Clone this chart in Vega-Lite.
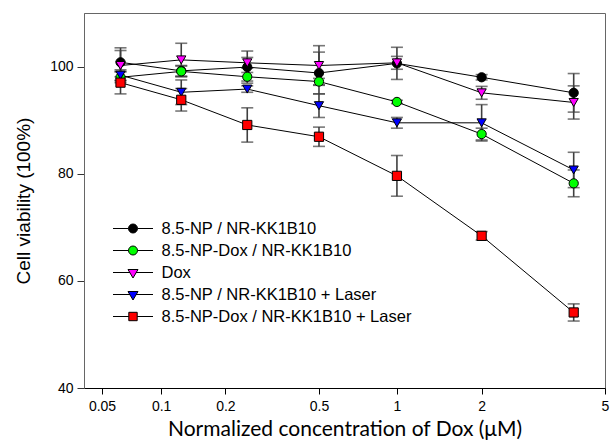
{
  "$schema": "https://vega.github.io/schema/vega-lite/v6.json",
  "width": 521,
  "height": 375,
  "autosize": {"type": "none"},
  "padding": {"left": 84, "top": 13, "right": 7, "bottom": 54},
  "background": "white",
  "config": {
    "font": "Liberation Sans",
    "view": {"stroke": "#666666", "strokeWidth": 1},
    "axis": {"grid": false, "labelColor": "black", "titleColor": "black", "titleFontWeight": "normal"}
  },
  "data": {
    "values": [
      {"s": "8.5-NP / NR-KK1B10", "x": 0.0625, "v": 100.8, "e": 2.7},
      {"s": "8.5-NP / NR-KK1B10", "x": 0.125, "v": 99.2, "e": 1.0},
      {"s": "8.5-NP / NR-KK1B10", "x": 0.25, "v": 99.9, "e": 3.0},
      {"s": "8.5-NP / NR-KK1B10", "x": 0.5, "v": 98.8, "e": 3.9},
      {"s": "8.5-NP / NR-KK1B10", "x": 1, "v": 100.6, "e": 3.0},
      {"s": "8.5-NP / NR-KK1B10", "x": 2, "v": 98.0, "e": 0.5},
      {"s": "8.5-NP / NR-KK1B10", "x": 4, "v": 95.1, "e": 3.6},
      {"s": "8.5-NP-Dox / NR-KK1B10", "x": 0.0625, "v": 98.0, "e": 1.0},
      {"s": "8.5-NP-Dox / NR-KK1B10", "x": 0.125, "v": 99.1, "e": 1.0},
      {"s": "8.5-NP-Dox / NR-KK1B10", "x": 0.25, "v": 98.1, "e": 0.8},
      {"s": "8.5-NP-Dox / NR-KK1B10", "x": 0.5, "v": 97.2, "e": 0.6},
      {"s": "8.5-NP-Dox / NR-KK1B10", "x": 1, "v": 93.4, "e": 0.3},
      {"s": "8.5-NP-Dox / NR-KK1B10", "x": 2, "v": 87.4, "e": 1.1},
      {"s": "8.5-NP-Dox / NR-KK1B10", "x": 4, "v": 78.2, "e": 2.5},
      {"s": "Dox", "x": 0.0625, "v": 100.2, "e": 2.8},
      {"s": "Dox", "x": 0.125, "v": 101.25, "e": 3.1},
      {"s": "Dox", "x": 0.25, "v": 100.7, "e": 1.0},
      {"s": "Dox", "x": 0.5, "v": 100.2, "e": 3.7},
      {"s": "Dox", "x": 1, "v": 100.7, "e": 1.2},
      {"s": "Dox", "x": 2, "v": 95.1, "e": 1.2},
      {"s": "Dox", "x": 4, "v": 93.3, "e": 3.1},
      {"s": "8.5-NP / NR-KK1B10 + Laser", "x": 0.0625, "v": 98.4, "e": 1.0},
      {"s": "8.5-NP / NR-KK1B10 + Laser", "x": 0.125, "v": 95.2, "e": 2.3},
      {"s": "8.5-NP / NR-KK1B10 + Laser", "x": 0.25, "v": 95.8, "e": 0.6},
      {"s": "8.5-NP / NR-KK1B10 + Laser", "x": 0.5, "v": 92.7, "e": 2.2},
      {"s": "8.5-NP / NR-KK1B10 + Laser", "x": 1, "v": 89.5, "e": 1.0},
      {"s": "8.5-NP / NR-KK1B10 + Laser", "x": 2, "v": 89.5, "e": 3.4},
      {"s": "8.5-NP / NR-KK1B10 + Laser", "x": 4, "v": 80.7, "e": 3.3},
      {"s": "8.5-NP-Dox / NR-KK1B10 + Laser", "x": 0.0625, "v": 97.0, "e": 2.1},
      {"s": "8.5-NP-Dox / NR-KK1B10 + Laser", "x": 0.125, "v": 93.8, "e": 2.1},
      {"s": "8.5-NP-Dox / NR-KK1B10 + Laser", "x": 0.25, "v": 89.1, "e": 3.2},
      {"s": "8.5-NP-Dox / NR-KK1B10 + Laser", "x": 0.5, "v": 86.9, "e": 1.8},
      {"s": "8.5-NP-Dox / NR-KK1B10 + Laser", "x": 1, "v": 79.6, "e": 3.8},
      {"s": "8.5-NP-Dox / NR-KK1B10 + Laser", "x": 2, "v": 68.4, "e": 0.8},
      {"s": "8.5-NP-Dox / NR-KK1B10 + Laser", "x": 4, "v": 54.1, "e": 1.6}
    ]
  },
  "encoding": {
    "x": {
      "field": "x", "type": "quantitative",
      "scale": {"type": "pow", "exponent": 0.12, "domain": [0.04, 5], "nice": false, "zero": false},
      "axis": {
        "title": "Normalized concentration of Dox (\u03bcM)",
        "values": [0.05, 0.1, 0.2, 0.5, 1, 2, 5],
        "format": "~g",
        "labelFontSize": 14,
        "labelPadding": 5,
        "labelFlush": false,
        "labelOverlap": false,
        "tickSize": 6,
        "tickColor": "black",
        "domainColor": "black",
        "titleFont": "Lato",
        "titleFontSize": 21,
        "titlePadding": 5
      }
    },
    "y": {
      "field": "v", "type": "quantitative",
      "scale": {"domain": [40, 110], "nice": false, "zero": false},
      "axis": {
        "title": "Cell viability (100%)",
        "values": [40, 60, 80, 100],
        "labelFontSize": 14,
        "labelPadding": 4,
        "tickSize": 7,
        "tickColor": "#333333",
        "domainColor": "#666666",
        "titleFontSize": 19,
        "titleX": -55,
        "titleBaseline": "alphabetic"
      }
    }
  },
  "layer": [
    {
      "mark": {
        "type": "errorbar",
        "rule": {"color": "#3f3f3f", "strokeWidth": 1.6},
        "ticks": {"color": "#3f3f3f", "size": 12, "thickness": 1.6}
      },
      "encoding": {
        "yError": {"field": "e"},
        "detail": {"field": "s"}
      }
    },
    {
      "mark": {"type": "line", "color": "black", "strokeWidth": 1},
      "encoding": {"detail": {"field": "s"}}
    },
    {
      "mark": {"type": "point", "filled": false, "size": 85, "stroke": "black", "strokeWidth": 1, "opacity": 1, "fillOpacity": 1, "strokeOpacity": 1},
      "encoding": {
        "fill": {
          "field": "s", "type": "nominal",
          "scale": {
            "domain": ["8.5-NP / NR-KK1B10", "8.5-NP-Dox / NR-KK1B10", "Dox", "8.5-NP / NR-KK1B10 + Laser", "8.5-NP-Dox / NR-KK1B10 + Laser"],
            "range": ["#000000", "#00ff00", "#ff00ff", "#0000ff", "#ff0000"]
          },
          "legend": null
        },
        "shape": {
          "field": "s", "type": "nominal",
          "scale": {
            "domain": ["8.5-NP / NR-KK1B10", "8.5-NP-Dox / NR-KK1B10", "Dox", "8.5-NP / NR-KK1B10 + Laser", "8.5-NP-Dox / NR-KK1B10 + Laser"],
            "range": ["circle", "circle", "triangle-down", "triangle-down", "square"]
          },
          "legend": null
        }
      }
    },
    {
      "mark": {"type": "point", "filled": false, "size": 400, "stroke": "black", "strokeWidth": 1, "opacity": 0},
      "encoding": {
        "fill": {
          "field": "s", "type": "nominal",
          "scale": {
            "domain": ["8.5-NP / NR-KK1B10", "8.5-NP-Dox / NR-KK1B10", "Dox", "8.5-NP / NR-KK1B10 + Laser", "8.5-NP-Dox / NR-KK1B10 + Laser"],
            "range": ["#000000", "#00ff00", "#ff00ff", "#0000ff", "#ff0000"]
          },
          "legend": {
            "orient": "none", "legendX": 38.5, "legendY": 205, "title": null,
            "symbolSize": 400, "symbolStrokeColor": "black", "symbolStrokeWidth": 1, "symbolOpacity": 1, "symbolFillOpacity": 1,
            "labelFont": "Liberation Sans", "labelFontSize": 16.5, "labelColor": "black", "labelOffset": 18,
            "rowPadding": 3, "padding": 0, "labelLimit": 400,
            "encode": {"symbols": {"update": {"stroke": {"value": "black"}, "strokeWidth": {"value": 1}, "strokeOpacity": {"value": 1}, "opacity": {"value": 1}}}}
          }
        },
        "shape": {
          "field": "s", "type": "nominal",
          "scale": {
            "domain": ["8.5-NP / NR-KK1B10", "8.5-NP-Dox / NR-KK1B10", "Dox", "8.5-NP / NR-KK1B10 + Laser", "8.5-NP-Dox / NR-KK1B10 + Laser"],
            "range": [
              "M-2,0H-0.45M0.45,0H2M-0.45,0A0.45,0.45,0,1,0,0.45,0A0.45,0.45,0,1,0,-0.45,0Z",
              "M-2,0H-0.45M0.45,0H2M-0.45,0A0.45,0.45,0,1,0,0.45,0A0.45,0.45,0,1,0,-0.45,0Z",
              "M-2,0H-0.3M0.3,0H2M-0.5,-0.3L0.5,-0.3L0,0.55Z",
              "M-2,0H-0.3M0.3,0H2M-0.5,-0.3L0.5,-0.3L0,0.55Z",
              "M-2,0H-0.42M0.42,0H2M-0.42,-0.42H0.42V0.42H-0.42Z"
            ]
          },
          "legend": {
            "orient": "none", "legendX": 38.5, "legendY": 205, "title": null,
            "symbolSize": 400, "symbolStrokeColor": "black", "symbolStrokeWidth": 1, "symbolOpacity": 1, "symbolFillOpacity": 1,
            "labelFont": "Liberation Sans", "labelFontSize": 16.5, "labelColor": "black", "labelOffset": 18,
            "rowPadding": 3, "padding": 0, "labelLimit": 400,
            "encode": {"symbols": {"update": {"stroke": {"value": "black"}, "strokeWidth": {"value": 1}, "strokeOpacity": {"value": 1}, "opacity": {"value": 1}}}}
          }
        }
      }
    }
  ],
  "resolve": {
    "scale": {"fill": "independent", "shape": "independent"},
    "legend": {"fill": "independent", "shape": "independent"}
  }
}
